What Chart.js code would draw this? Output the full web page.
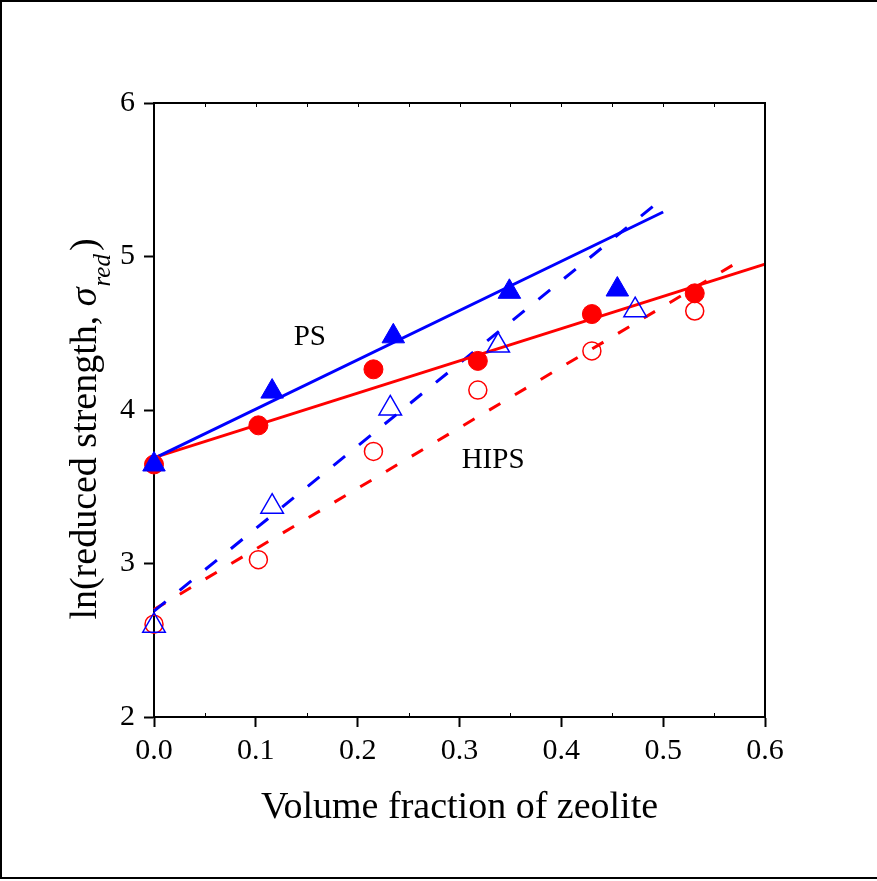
<!DOCTYPE html>
<html>
<head>
<meta charset="utf-8">
<title>ln(reduced strength) vs volume fraction of zeolite</title>
<script src="https://cdn.jsdelivr.net/npm/chart.js@4.4.1/dist/chart.umd.min.js"></script>
<style>
  html, body { margin: 0; padding: 0; background: #fff; }
  canvas { display: block; }
</style>
</head>
<body>
<canvas id="zeolite-chart" width="877" height="881"></canvas>
<script>
var SERIF = '"Liberation Serif", "Times New Roman", serif';
var BLUE = '#0000ff';
var RED = '#ff0000';

// PS matrix, filled symbols
var psTriX = [0, 0.116, 0.235, 0.349, 0.455];
var psTriY = [3.645, 4.12, 4.48, 4.77, 4.785];
var psCircX = [0, 0.1025, 0.2155, 0.318, 0.430, 0.531];
var psCircY = [3.645, 3.90, 4.265, 4.32, 4.625, 4.76];

// HIPS matrix, open symbols
var hipsTriX = [0, 0.116, 0.232, 0.338, 0.4725];
var hipsTriY = [2.595, 3.37, 4.01, 4.42, 4.65];
var hipsCircX = [0, 0.1025, 0.2155, 0.318, 0.430, 0.531];
var hipsCircY = [2.605, 3.025, 3.73, 4.13, 4.385, 4.645];

// straight-line fits (end points)
var psTriFitX = [0, 0.5];
var psTriFitY = [3.685, 5.29];
var psCircFitX = [0, 0.6];
var psCircFitY = [3.69, 4.95];
var hipsTriFitX = [0, 0.5];
var hipsTriFitY = [2.69, 5.38];
var hipsCircFitX = [0, 0.575];
var hipsCircFitY = [2.70, 4.97];

// axis ranges and steps
var xRange = [0, 0.6];
var yRange = [2, 6];
var xStep = 0.1;
var xMinorStep = 0.05;
var yStep = 1;

// in-plot labels
var noteText = ['PS', 'HIPS'];
var noteX = [0.153, 0.333];
var noteY = [4.47, 3.674];

function pts(xs, ys) {
    return xs.map(function (x, i) { return { x: x, y: ys[i] }; });
}

function markers(xs, ys, color, style, radius, filled) {
    return {
        data: pts(xs, ys),
        showLine: false,
        clip: false,
        pointStyle: style,
        pointRadius: radius,
        pointHoverRadius: radius,
        pointBorderWidth: filled ? 1 : 1.5,
        pointBorderColor: color,
        pointBackgroundColor: filled ? color : 'rgba(0,0,0,0)'
    };
}

function fitLine(xs, ys, color, dash) {
    return {
        data: pts(xs, ys),
        showLine: true,
        clip: false,
        borderColor: color,
        borderWidth: 3,
        borderDash: dash,
        pointRadius: 0,
        pointHoverRadius: 0,
        fill: false
    };
}

var decorations = {
    id: 'decorations',
    beforeDraw: function (chart) {
        var ctx = chart.ctx;
        ctx.save();
        ctx.fillStyle = '#fff';
        ctx.fillRect(0, 0, chart.width, chart.height);
        // outer frame
        ctx.strokeStyle = '#000';
        ctx.lineWidth = 2;
        ctx.beginPath();
        ctx.moveTo(chart.width, 1);
        ctx.lineTo(1, 1);
        ctx.lineTo(1, 878);
        ctx.lineTo(chart.width, 878);
        ctx.stroke();
        ctx.restore();
    },
    afterDraw: function (chart) {
        var ctx = chart.ctx;
        var a = chart.chartArea;
        var xs = chart.scales.x;
        var ys = chart.scales.y;
        ctx.save();

        // top and right spines
        ctx.strokeStyle = '#000';
        ctx.lineWidth = 2;
        ctx.beginPath();
        ctx.moveTo(a.left, a.top);
        ctx.lineTo(a.right, a.top);
        ctx.lineTo(a.right, a.bottom);
        ctx.stroke();

        // small inward ticks
        ctx.lineWidth = 1;
        var n = Math.round((xRange[1] - xRange[0]) / xMinorStep);
        for (var i = 1; i < n; i++) {
            var px = Math.round(xs.getPixelForValue(xRange[0] + i * xMinorStep)) + 0.5;
            ctx.beginPath();
            ctx.moveTo(px, a.top);
            ctx.lineTo(px, a.top + 4);
            if (i % 2 === 1) {
                ctx.moveTo(px, a.bottom);
                ctx.lineTo(px, a.bottom - 4);
            }
            ctx.stroke();
        }

        // PS / HIPS labels
        ctx.fillStyle = '#000';
        ctx.font = '29px ' + SERIF;
        ctx.textAlign = 'center';
        ctx.textBaseline = 'middle';
        noteText.forEach(function (t, k) {
            ctx.fillText(t, xs.getPixelForValue(noteX[k]), ys.getPixelForValue(noteY[k]));
        });

        // y-axis title with italic sigma and subscript
        var parts = [
            { t: 'ln(reduced strength, ', f: '38px ' + SERIF, dy: 0, gap: 0 },
            { t: '\u03c3', f: 'italic 38px ' + SERIF, dy: 0, gap: 0 },
            { t: 'red', f: 'italic 25px ' + SERIF, dy: 14, gap: 1 },
            { t: ')', f: '38px ' + SERIF, dy: 0, gap: 3 }
        ];
        var total = 0;
        parts.forEach(function (p) {
            ctx.font = p.f;
            p.w = ctx.measureText(p.t).width;
            total += p.gap + p.w;
        });
        var cy = (a.top + a.bottom) / 2 + 19;
        ctx.translate(a.left - 58, cy + total / 2);
        ctx.rotate(-Math.PI / 2);
        ctx.textAlign = 'left';
        ctx.textBaseline = 'alphabetic';
        var cx = 0;
        parts.forEach(function (p) {
            cx += p.gap;
            ctx.font = p.f;
            ctx.fillText(p.t, cx, p.dy);
            cx += p.w;
        });
        ctx.restore();
    }
};

var ctx = document.getElementById('zeolite-chart');
new Chart(ctx, {
    type: 'scatter',
    data: {
        datasets: [
            markers(psTriX, psTriY, BLUE, 'triangle', 13, true),
            markers(hipsTriX, hipsTriY, BLUE, 'triangle', 13, false),
            markers(psCircX, psCircY, RED, 'circle', 9.5, true),
            markers(hipsCircX, hipsCircY, RED, 'circle', 9, false),
            fitLine(psTriFitX, psTriFitY, BLUE, []),
            fitLine(psCircFitX, psCircFitY, RED, []),
            fitLine(hipsTriFitX, hipsTriFitY, BLUE, [15, 18]),
            fitLine(hipsCircFitX, hipsCircFitY, RED, [13, 17])
        ]
    },
    options: {
        responsive: false,
        animation: false,
        layout: { padding: { left: 0, top: 103, right: 112, bottom: 0 } },
        plugins: {
            legend: { display: false },
            tooltip: { enabled: false }
        },
        scales: {
            x: {
                type: 'linear',
                min: xRange[0],
                max: xRange[1],
                ticks: {
                    stepSize: xStep,
                    color: '#000',
                    padding: 6,
                    font: { family: SERIF, size: 30 },
                    callback: function (v) { return v.toFixed(1); }
                },
                grid: { drawOnChartArea: false, tickLength: 10, tickWidth: 2, tickColor: '#000' },
                border: { display: true, color: '#000', width: 2 },
                title: {
                    display: true,
                    text: 'Volume fraction of zeolite',
                    color: '#000',
                    font: { family: SERIF, size: 38 },
                    padding: { top: 0, bottom: 50 }
                },
                afterFit: function (s) { s.height = 164; }
            },
            y: {
                type: 'linear',
                min: yRange[0],
                max: yRange[1],
                ticks: {
                    stepSize: yStep,
                    color: '#000',
                    padding: 9,
                    font: { family: SERIF, size: 30 },
                    callback: function (v) { return String(v); }
                },
                grid: { drawOnChartArea: false, tickLength: 10, tickWidth: 2, tickColor: '#000' },
                border: { display: true, color: '#000', width: 2 },
                afterFit: function (s) { s.width = 154; }
            }
        }
    },
    plugins: [decorations]
});
</script>
</body>
</html>
